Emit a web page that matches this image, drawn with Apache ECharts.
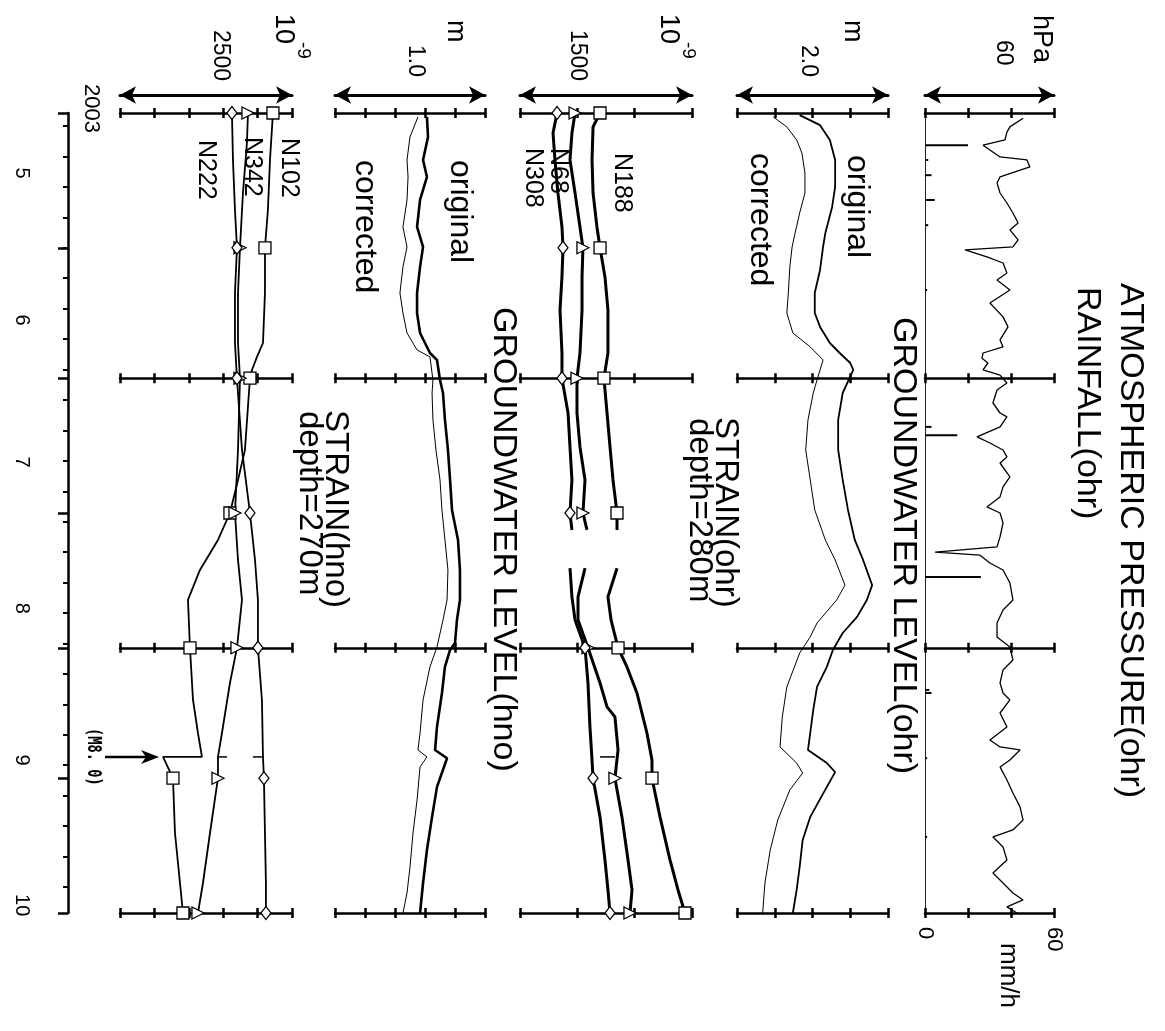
<!DOCTYPE html>
<html>
<head>
<meta charset="utf-8">
<script src="https://cdn.jsdelivr.net/npm/echarts@6/dist/echarts.min.js"></script>
<style>
  html, body { margin: 0; padding: 0; background: #fff; }
  #c { width: 1165px; height: 1031px; }
</style>
</head>
<body>
<div id="c"></div>
<script>
// Time is given as day of 2003 (Jan 1 = 0). The plot runs from 1 May to 1 Nov.
const dayMin = 120, dayMax = 304;
const monthStarts = [120, 151, 181, 212, 243, 273, 304];
const frameDays = [120, 181, 243, 304];
const monthLabelDays = [133.8, 167.6, 200.3, 233.9, 268.8, 302.2];
const monthLabels = ['5', '6', '7', '8', '9', '10'];
const quakeDay = 268.1;   // M8.0 event

// Atmospheric pressure (ohr), hPa
const pressure = [
  [121.2,1015.6],[123.2,1009.5],[124.4,1008.1],[126.2,1007.2],[127.4,997.0],[130.1,1004.9],[130.8,1017.4],[132.4,1018.8],
  [134.7,1004.9],[136.1,1003.5],[138.4,1004.9],[140.7,1008.1],[143.0,1010.9],[145.3,1013.3],[146.9,1009.5],[149.2,1013.3],
  [150.8,1010.9],[151.5,988.6],[153.1,998.8],[154.5,1006.3],[156.8,1008.1],[158.4,1003.5],[160.7,1009.5],[163.7,1000.2],
  [166.9,1006.3],[169.2,1008.6],[172.2,1004.9],[173.8,1006.3],[175.2,997.0],[176.4,996.5],[177.5,999.3],[179.1,997.0],
  [180.3,1004.9],[182.1,1008.1],[183.7,1003.5],[186.7,1001.6],[189.0,1004.9],[189.9,1008.1],[192.2,1004.9],[194.5,994.2],
  [195.9,1000.2],[197.5,1006.3],[199.1,1008.1],[200.5,1004.9],[203.7,1009.5],[206.0,1006.3],[208.3,1004.9],[210.6,998.8],
  [212.0,1004.9],[214.3,1006.3],[217.5,1004.9],[219.8,1003.5],[221.0,974.7],[221.7,995.6],[223.5,1000.2],[225.1,1006.3],
  [228.1,1009.5],[232.0,1010.9],[234.3,1006.3],[237.3,1003.5],[240.5,1003.5],[242.8,1009.5],[245.8,1010.9],[248.1,1006.3],
  [251.1,1004.9],[253.4,1006.3],[255.0,1009.5],[258.0,1004.9],[261.2,1008.1],[264.2,1000.2],[265.8,1004.9],[266.5,1014.2],
  [268.8,1009.5],[270.4,1004.9],[273.4,1008.1],[276.4,1010.9],[279.6,1014.2],[282.6,1015.6],[284.9,1010.9],[286.5,1001.6],
  [288.8,1006.3],[291.8,1008.1],[294.8,1001.6],[297.1,1006.3],[299.4,1010.9],[301.0,1015.6],[302.6,1008.1],[304.0,1012.8]
];

// Rainfall (ohr), mm/h
const rainfall = [
  [127.4,20],[130.8,1.5],[134.3,3],[140.0,4.5],[145.8,1.5],[160.7,1],[192.2,3],[194.1,15],
  [226.7,26],[252.7,2],[253.4,3],[268.4,1],[286.5,1]
];

// Groundwater level (ohr), m
const gwOhrOriginal = [
  [120.5,0.83],[122.8,1.10],[126.2,1.23],[130.8,1.30],[137.0,1.30],[141.6,1.26],[147.6,1.17],[150.8,1.14],
  [156.1,1.10],[161.4,1.03],[166.0,1.03],[169.2,1.10],[172.9,1.23],[175.2,1.36],[177.5,1.50],[179.1,1.54],
  [184.4,1.40],[190.6,1.34],[197.5,1.34],[204.4,1.40],[211.3,1.47],[218.2,1.56],[222.8,1.67],[228.6,1.79],
  [232.0,1.72],[235.9,1.59],[239.6,1.40],[243.5,1.27],[247.4,1.19],[252.0,1.06],[257.3,1.01],[262.6,0.97],
  [266.5,0.94],[269.5,1.19],[271.6,1.30],[275.0,1.19],[281.9,0.97],[287.2,0.87],[293.4,0.83],[298.7,0.79],[304.0,0.74]
];
const gwOhrCorrected = [
  [120.9,0.48],[123.2,0.66],[126.2,0.79],[129.2,0.86],[133.8,0.90],[138.4,0.90],[143.0,0.83],[147.6,0.77],
  [150.8,0.73],[155.4,0.70],[161.4,0.68],[166.0,0.66],[170.6,0.74],[173.8,0.97],[176.8,1.14],[181.4,1.06],
  [184.4,1.01],[190.6,0.94],[197.5,0.91],[204.4,0.97],[211.3,1.03],[218.2,1.17],[222.8,1.30],[228.6,1.43],
  [232.0,1.32],[237.3,1.06],[240.5,0.97],[244.2,0.83],[252.0,0.66],[258.9,0.60],[265.8,0.57],[269.5,0.79],
  [271.8,0.87],[275.7,0.70],[282.6,0.54],[289.5,0.44],[297.1,0.37],[304.0,0.34]
];

// Strain (ohr), depth 280 m, 1e-9 (null = no record)
const strainN188 = [
  [120,698],[123.2,637],[130.8,628],[138.4,637],[146.2,671],[151,698],[157.7,741],[165.3,767],[175.2,767],
  [181,732],[189.0,759],[196.8,785],[204.4,811],[212,846],[215.9,846],null,
  [224.7,846],[231.3,767],[236.6,794],[243,855],[247.4,933],[253.4,1020],[262.6,1107],[268.8,1151],
  [273,1151],[281.9,1221],[291.8,1308],[298.7,1378],[304,1439]
];
const strainN68 = [
  [120,480],[124.6,453],[130.8,436],[138.4,480],[146.2,523],[151,549],[157.7,541],[165.3,541],[175.2,523],
  [181,497],[189.0,497],[196.8,523],[204.4,567],[212,549],[215.9,584],null,
  [224.7,567],[231.3,506],[236.6,506],[243,593],[251.1,698],[256.6,759],[258.9,828],[266.5,855],
  [273,828],[281.9,889],[291.8,942],[298.7,977],[304,959]
];
const strainN308 = [
  [120,323],[124.6,288],[130.8,305],[138.4,331],[146.2,366],[151,375],[157.7,366],[165.3,349],[175.2,366],
  [181,366],[189.0,419],[196.8,436],[204.4,453],[212,436],[215.9,453],null,
  [224.7,436],[231.3,453],[236.6,480],[243,567],[251.1,593],[261.2,610],[268.8,628],
  [273,637],[281.9,698],[291.8,741],[298.7,767],[304,785]
];
// short level marks drawn across the traces at the M8.0 time, [from, to] in 1e-9
const quakeMarksOhr = [[698, 828]];

// Groundwater level (hno), m
const gwHnoOriginal = [
  [120.9,0.613],[125.5,0.620],[130.8,0.587],[134.7,0.613],[140.0,0.567],[146.2,0.547],[150.8,0.587],[155.4,0.567],
  [161.4,0.547],[166.0,0.547],[170.6,0.567],[175.2,0.633],[176.8,0.680],[181.4,0.700],[184.4,0.720],[190.6,0.733],
  [197.5,0.753],[204.4,0.767],[211.3,0.780],[218.2,0.820],[225.1,0.833],[232.0,0.833],[236.6,0.813],[241.9,0.800],
  [243.5,0.767],[247.4,0.733],[253.4,0.713],[261.2,0.680],[266.5,0.667],[268.4,0.747],[275.0,0.680],[281.9,0.647],
  [289.5,0.613],[297.1,0.587],[304.0,0.567]
];
const gwHnoCorrected = [
  [120.9,0.553],[125.5,0.500],[130.8,0.480],[134.7,0.487],[140.0,0.480],[146.2,0.453],[150.8,0.480],[155.4,0.453],
  [161.4,0.433],[166.0,0.453],[170.6,0.480],[174.5,0.547],[176.1,0.633],[181.4,0.653],[184.4,0.647],[190.6,0.653],
  [197.5,0.673],[204.4,0.700],[211.3,0.713],[218.2,0.733],[225.1,0.753],[232.0,0.747],[236.6,0.720],[242.8,0.680],
  [247.4,0.633],[255.0,0.587],[262.6,0.567],[266.5,0.553],[268.1,0.613],[270.4,0.567],[278.0,0.547],[285.6,0.520],
  [293.4,0.500],[299.4,0.480],[304.0,0.453]
];

// Strain (hno), depth 270 m, 1e-9
const strainN102 = [
  [120,2223],[130.8,2180],[142.3,2150],[151,2107],[161.4,2107],[172.9,2078],[176.1,1991],[179.1,1918],
  [181,1889],[197.5,1816],[204.4,1715],[212,1598],[218.2,1424],[225.1,1162],[232.0,988],[243,1017],
  [255.0,1061],[262.6,1133],[268.1,1191],[268.1,625],[273,770],[285.6,799],[297.1,872],[304,915]
];
const strainN342 = [
  [120,1860],[126.9,1845],[138.4,1787],[151,1744],[161.4,1715],[172.9,1715],[181,1744],[197.5,1715],
  [212,1671],[222.8,1715],[232.0,1773],[243,1700],[251.1,1598],[262.6,1482],[268.1,1424],[273,1424],
  [285.6,1308],[297.1,1206],[304,1133]
];
const strainN222 = [
  [120,1627],[130.8,1642],[142.3,1671],[151,1700],[161.4,1671],[172.9,1671],[181,1700],[197.5,1773],
  [212,1889],[222.8,1962],[232.0,2005],[243,2005],[255.0,2063],[268.1,2078],[273,2092],[285.6,2107],
  [297.1,2121],[304,2121]
];
const quakeMarksHno = [[1409, 1555], [1932, 2078]];

// ---------------------------------------------------------------------------
const GRID_TOP = 113, GRID_H = 800;
const INK = '#000';
const FONT = 'Liberation Sans';

const panels = [
  { left: 925, width: 129, min: 0, max: 60,   interval: 20 },   // rainfall mm/h
  { left: 737, width: 151, min: 0, max: 2.0,  interval: 0.5 },  // groundwater ohr
  { left: 520, width: 172, min: 0, max: 1500, interval: 500 },  // strain ohr
  { left: 335, width: 150, min: 0, max: 1.0,  interval: 0.2 },  // groundwater hno
  { left: 120, width: 172, min: 0, max: 2500, interval: 500 }   // strain hno
];

const grid = [], xAxis = [], yAxis = [], series = [];
const off = { show: false };

panels.forEach((p, gi) => {
  grid.push({ left: p.left, top: GRID_TOP, width: p.width, height: GRID_H });
  yAxis.push({
    gridIndex: gi, type: 'value', min: dayMin, max: dayMax, inverse: true,
    show: gi === 0, position: 'left',
    axisLine: { show: gi === 0, onZero: false, lineStyle: { color: '#222', width: 1 } },
    axisTick: off, axisLabel: off, splitLine: off
  });
  p.dataAxis = xAxis.length;
  // frame lines with ticks crossing them, repeated every two months
  frameDays.forEach(d => {
    const atBottom = d === dayMax;
    const offset = atBottom ? 0 : -(d - dayMin) / (dayMax - dayMin) * GRID_H;
    [false, true].forEach(inside => {
      xAxis.push({
        gridIndex: gi, type: 'value', min: p.min, max: p.max, interval: p.interval,
        position: atBottom ? 'bottom' : 'top', offset,
        axisLine: { show: !inside, onZero: false, lineStyle: { color: INK, width: 2.5 } },
        axisTick: { show: true, inside, length: 5, lineStyle: { color: INK, width: 2.5 } },
        axisLabel: off, splitLine: off
      });
    });
  });
  // double-headed scale arrow above each panel
  xAxis.push({
    gridIndex: gi, type: 'value', min: p.min, max: p.max, position: 'top', offset: 18,
    axisLine: { show: true, onZero: false, symbol: ['arrow', 'arrow'], symbolSize: [13, 16],
      lineStyle: { color: INK, width: 3 } },
    axisTick: off, axisLabel: off, splitLine: off
  });
});

// pressure scale shares the rainfall panel
const pressureAxis = xAxis.length;
xAxis.push({ gridIndex: 0, type: 'value', min: 970, max: 1030, show: false,
  axisLine: { onZero: false } });

// rainfall tick labels at the bottom of the first panel
xAxis.push({
  gridIndex: 0, type: 'value', min: 0, max: 60, position: 'bottom', offset: 0,
  axisLine: { show: false, onZero: false }, axisTick: off, splitLine: off,
  axisLabel: { show: true, customValues: [0, 60], rotate: -90, margin: 14,
    fontFamily: FONT, fontSize: 22, color: INK }
});

// time axis
const timeGrid = grid.length;
grid.push({ left: 68, top: GRID_TOP, width: 1, height: GRID_H });
xAxis.push({ gridIndex: timeGrid, type: 'value', show: false, min: 0, max: 1 });
const sundays = [];
for (let d = 123; d <= dayMax; d += 7) sundays.push(d);
yAxis.push({
  gridIndex: timeGrid, type: 'value', min: dayMin, max: dayMax, inverse: true, position: 'left',
  axisLine: { show: true, onZero: false, lineStyle: { color: INK, width: 2.5 } },
  axisTick: { show: true, customValues: monthStarts, length: 10, lineStyle: { color: INK, width: 2.5 } },
  axisLabel: off, splitLine: off
});
yAxis.push({
  gridIndex: timeGrid, type: 'value', min: dayMin, max: dayMax, inverse: true, position: 'left',
  axisLine: { show: false, onZero: false },
  axisTick: { show: true, customValues: sundays, length: 5, lineStyle: { color: INK, width: 2 } },
  axisLabel: { show: true, customValues: monthLabelDays, rotate: -90, margin: 36,
    fontFamily: FONT, fontSize: 20, color: INK,
    formatter: v => monthLabels[monthLabelDays.indexOf(v)] || '' },
  splitLine: off
});

// ---------------------------------------------------------------------------
const flip = arr => arr.map(p => (p ? [p[1], p[0]] : ['-', '-']));

function line(gi, xi, data, width) {
  return {
    type: 'line', xAxisIndex: xi, yAxisIndex: gi, data: flip(data),
    showSymbol: false, symbol: 'none', connectNulls: false, clip: false,
    lineStyle: { color: INK, width }, animation: false, silent: true, z: 3
  };
}
function markers(gi, xi, data, symbol, size, rotate) {
  return {
    type: 'scatter', xAxisIndex: xi, yAxisIndex: gi,
    data: flip(data.filter(p => p && monthStarts.includes(p[0]))),
    symbol, symbolSize: size, symbolRotate: rotate || 0,
    itemStyle: { color: '#fff', borderColor: INK, borderWidth: 1.3, opacity: 1 },
    animation: false, silent: true, z: 6
  };
}
function quakeMarks(gi, xi, spans) {
  return {
    type: 'custom', xAxisIndex: xi, yAxisIndex: gi, data: spans,
    animation: false, silent: true, z: 5,
    renderItem: (params, api) => {
      const a = api.coord([api.value(0), quakeDay]);
      const b = api.coord([api.value(1), quakeDay]);
      return { type: 'line', shape: { x1: a[0], y1: a[1], x2: b[0], y2: b[1] },
        style: { stroke: INK, lineWidth: 1.5 } };
    }
  };
}

// rainfall spikes rising from the zero line
series.push({
  type: 'custom', xAxisIndex: panels[0].dataAxis, yAxisIndex: 0, data: rainfall,
  encode: { x: 1, y: 0 }, animation: false, silent: true,
  renderItem: (params, api) => {
    const a = api.coord([0, api.value(0)]);
    const b = api.coord([api.value(1), api.value(0)]);
    return { type: 'line', shape: { x1: a[0], y1: a[1], x2: b[0], y2: b[1] },
      style: { stroke: INK, lineWidth: 2 } };
  }
});
series.push(line(0, pressureAxis, pressure, 1.3));

series.push(line(1, panels[1].dataAxis, gwOhrOriginal, 1.8));
series.push(line(1, panels[1].dataAxis, gwOhrCorrected, 1));

[strainN188, strainN68, strainN308].forEach(s => series.push(line(2, panels[2].dataAxis, s, 3)));
series.push(markers(2, panels[2].dataAxis, strainN188, 'rect', 12));
series.push(markers(2, panels[2].dataAxis, strainN68, 'triangle', 12, -90));
series.push(markers(2, panels[2].dataAxis, strainN308, 'diamond', [10, 13]));
series.push(quakeMarks(2, panels[2].dataAxis, quakeMarksOhr));

series.push(line(3, panels[3].dataAxis, gwHnoOriginal, 2.6));
series.push(line(3, panels[3].dataAxis, gwHnoCorrected, 1));

[strainN102, strainN342, strainN222].forEach(s => series.push(line(4, panels[4].dataAxis, s, 1.8)));
series.push(markers(4, panels[4].dataAxis, strainN102, 'rect', 12));
series.push(markers(4, panels[4].dataAxis, strainN342, 'triangle', 12, -90));
series.push(markers(4, panels[4].dataAxis, strainN222, 'diamond', [10, 13]));
series.push(quakeMarks(4, panels[4].dataAxis, quakeMarksHno));

// M8.0 arrow pointing at the step of N102
const stepAfter = strainN102.filter(p => p[0] === quakeDay)[1][1];
series.push({
  type: 'custom', xAxisIndex: panels[4].dataAxis, yAxisIndex: 4, data: [[stepAfter, quakeDay]],
  animation: false, silent: true, clip: false, z: 7,
  renderItem: (params, api) => {
    const tip = api.coord([api.value(0), api.value(1)]);
    const x = tip[0] - 4, y = tip[1];
    return { type: 'group', children: [
      { type: 'line', shape: { x1: x - 54, y1: y, x2: x - 12, y2: y }, style: { stroke: INK, lineWidth: 2.5 } },
      { type: 'polygon', shape: { points: [[x, y], [x - 18, y - 7], [x - 13, y], [x - 18, y + 7]] }, style: { fill: INK } },
      { type: 'text', x: x - 66, y, rotation: -Math.PI / 2, scaleX: 0.72,
        style: { text: '(M8. 0)', fontFamily: 'DejaVu Sans Mono', fontWeight: 'bold', fontSize: 19,
          fill: INK, align: 'center', verticalAlign: 'middle' } }
    ] };
  }
});

// ---------------------------------------------------------------------------
const vt = (text, x, y, size, extra) => ({
  type: 'text', x, y, rotation: -Math.PI / 2, silent: true,
  style: Object.assign({ text, fontFamily: FONT, fontSize: size, fill: INK,
    align: 'left', verticalAlign: 'middle' }, extra || {})
});

const graphic = [
  vt('ATMOSPHERIC PRESSURE(ohr)', 1130, 283, 34),
  vt('RAINFALL(ohr)', 1087, 287, 34),
  vt('GROUNDWATER LEVEL(ohr)', 903, 317, 34),
  vt('STRAIN(ohr)', 725, 417, 33),
  vt('depth=280m', 699, 418, 33),
  vt('GROUNDWATER LEVEL(hno)', 503, 307, 34),
  vt('STRAIN(hno)', 335, 410, 33),
  vt('depth=270m', 309, 411, 33),

  vt('original', 857, 155, 32),
  vt('corrected', 760, 153, 32),
  vt('original', 460, 160, 32),
  vt('corrected', 365, 160, 32),

  vt('N188', 622, 153, 25),
  vt('N68', 558, 148, 25),
  vt('N308', 533, 148, 25),
  vt('N102', 289, 138, 25),
  vt('N342', 252, 137, 25),
  vt('N222', 206, 140, 25),

  vt('hPa', 1041, 15, 27),
  vt('60', 1003, 40, 23),
  vt('m', 852, 20, 27),
  vt('2.0', 808, 45, 23),
  vt('10', 668, 14, 27),
  vt('-9', 688, 42, 19),
  vt('1500', 577, 30, 23),
  vt('m', 455, 20, 27),
  vt('1.0', 415, 45, 23),
  vt('10', 283, 14, 27),
  vt('-9', 303, 42, 19),
  vt('2500', 220, 30, 23),
  vt('2003', 91, 84, 22),
  vt('mm/h', 1008, 943, 26)
];

const chart = echarts.init(document.getElementById('c'), null, { renderer: 'canvas' });
chart.setOption({
  backgroundColor: '#fff',
  animation: false,
  textStyle: { fontFamily: FONT },
  grid, xAxis, yAxis, series, graphic
});
</script>
</body>
</html>
